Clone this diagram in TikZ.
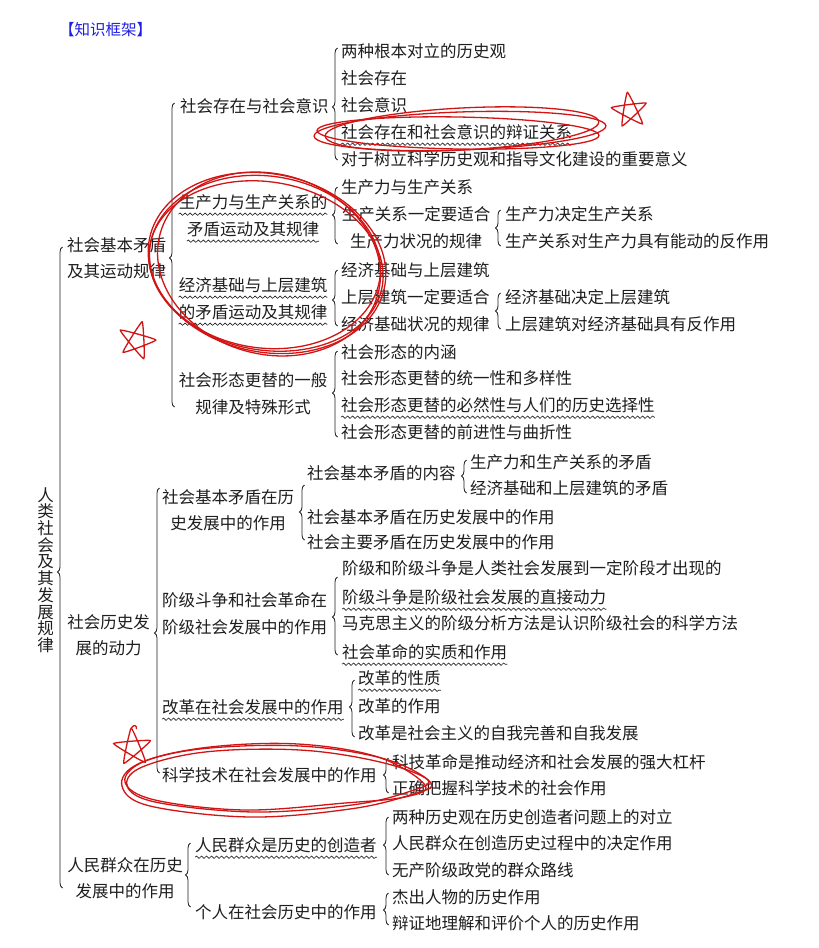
\documentclass[tikz,border=0pt]{standalone}
\usepackage{fontspec}
\newfontfamily\cjk{Noto Sans CJK SC}
\usetikzlibrary{decorations.pathreplacing,decorations.pathmorphing,calc}
\definecolor{ink}{HTML}{1E1E1E}
\definecolor{titleblue}{HTML}{1F1FE0}
\definecolor{penred}{HTML}{D21414}
% curly brace: name, x of the brace line, top y, bottom y, tip y
\newcommand\mkbrace[5]{%
  \coordinate (#1t) at (#2+2.5,#3);
  \coordinate (#1b) at (#2+2.5,#4);
  \pgfmathsetmacro\braceasp{(#4-#5)/(#4-#3)}
  \draw[brc=\braceasp] (#1b) -- (#1t);
}
% wavy underline below a node
\newcommand\wavy[1]{\draw[wavyline] ([yshift=-4pt]#1.south west) -- ([yshift=-4pt]#1.south east);}
\begin{document}
\begin{tikzpicture}[x=1pt,y=-1pt,
  lbl/.style={inner sep=0pt, anchor=west, text=ink,
    font=\cjk\fontsize{16.5}{20}\selectfont, text height=14pt, text depth=2pt},
  lblc/.style={lbl, anchor=center},
  wavyline/.style={draw=ink, line width=0.6pt, decorate,
    decoration={snake, amplitude=1.2pt, segment length=5pt}},
  brc/.style={draw=ink, line width=0.8pt, decorate,
    decoration={brace, amplitude=5pt, aspect=#1}},
  redpen/.style={draw=penred, line width=1.3pt, line cap=round, line join=round},
]
\fill[white] (0,0) rectangle (819,948);
\useasboundingbox (0,0) rectangle (819,948);

% title
\node[lbl, text=titleblue, font=\cjk\fontsize{15.5}{18}\selectfont] (title) at (59,29) {【知识框架】};

% root
\node[inner sep=0pt, text=ink, align=center, font=\cjk\fontsize{16.5}{16.7}\selectfont] (root) at (45.5,570)
  {人\\类\\社\\会\\及\\其\\发\\展\\规\\律};
\mkbrace{br0}{60}{247}{888}{572}

% first level
\node[lblc] (c1a) at (116.5,245) {社会基本矛盾};
\node[lblc] (c1b) at (116.5,271) {及其运动规律};
\node[lblc] (c2a) at (108.5,622) {社会历史发};
\node[lblc] (c2b) at (108.5,648) {展的动力};
\node[lblc] (c3a) at (125,865) {人民群众在历史};
\node[lblc] (c3b) at (125,891) {发展中的作用};
\mkbrace{br1}{172}{103}{407}{258}
\mkbrace{br2}{157}{488}{773}{633}
\mkbrace{br3}{188}{843}{907}{875}

% --- 社会基本矛盾及其运动规律 ---
\node[lbl] (s1) at (180,106) {社会存在与社会意识};
\node[lblc] (s2a) at (253,202) {生产力与生产关系的};
\node[lblc] (s2b) at (253,229) {矛盾运动及其规律};
\node[lblc] (s3a) at (253,285) {经济基础与上层建筑};
\node[lblc] (s3b) at (253,312) {的矛盾运动及其规律};
\node[lblc] (s4a) at (253,380) {社会形态更替的一般};
\node[lblc] (s4b) at (253,407) {规律及特殊形式};
\wavy{s2a}\wavy{s2b}\wavy{s3a}\wavy{s3b}

\mkbrace{bra}{335}{48}{160}{107}
\node[lbl] (a1) at (341,51) {两种根本对立的历史观};
\node[lbl] (a2) at (341,78) {社会存在};
\node[lbl] (a3) at (341,105) {社会意识};
\node[lbl] (a4) at (341,132) {社会存在和社会意识的辩证关系};
\node[lbl] (a5) at (341,159) {对于树立科学历史观和指导文化建设的重要意义};
\wavy{a4}

\mkbrace{brb}{335}{187}{244}{215}
\node[lbl] (b1) at (341,187) {生产力与生产关系};
\node[lblc] (b2a) at (416,214) {生产关系一定要适合};
\node[lblc] (b2b) at (416,241) {生产力状况的规律};
\mkbrace{brbb}{498}{210}{246}{228}
\node[lbl] (b3) at (505,214) {生产力决定生产关系};
\node[lbl] (b4) at (505,241) {生产关系对生产力具有能动的反作用};

\mkbrace{bre}{335}{270}{326}{300}
\node[lbl] (e1) at (341,270) {经济基础与上层建筑};
\node[lbl] (e2a) at (341,297) {上层建筑一定要适合};
\node[lbl] (e2b) at (341,324) {经济基础状况的规律};
\mkbrace{bree}{498}{293}{329}{311}
\node[lbl] (e3) at (505,297) {经济基础决定上层建筑};
\node[lbl] (e4) at (505,324) {上层建筑对经济基础具有反作用};

\mkbrace{brf}{335}{351}{437}{393}
\node[lbl] (f1) at (341,352) {社会形态的内涵};
\node[lbl] (f2) at (341,378) {社会形态更替的统一性和多样性};
\node[lbl] (f3) at (341,405) {社会形态更替的必然性与人们的历史选择性};
\node[lbl] (f4) at (341,432) {社会形态更替的前进性与曲折性};
\wavy{f3}

% --- 社会历史发展的动力 ---
\node[lblc] (m1a) at (228,497) {社会基本矛盾在历};
\node[lblc] (m1b) at (228,523) {史发展中的作用};
\node[lbl] (m2a) at (162,600) {阶级斗争和社会革命在};
\node[lbl] (m2b) at (162,627) {阶级社会发展中的作用};
\node[lbl] (m3) at (162,707) {改革在社会发展中的作用};
\node[lbl] (m4) at (162,775) {科学技术在社会发展中的作用};
\wavy{m3}

\mkbrace{brg}{302}{485}{540}{512}
\node[lbl] (g1) at (307,473) {社会基本矛盾的内容};
\mkbrace{brgg}{464}{460}{493}{476}
\node[lbl] (g2) at (470,462) {生产力和生产关系的矛盾};
\node[lbl] (g3) at (470,488) {经济基础和上层建筑的矛盾};
\node[lbl] (g4) at (307,517) {社会基本矛盾在历史发展中的作用};
\node[lbl] (g5) at (307,542) {社会主要矛盾在历史发展中的作用};

\mkbrace{brh}{335}{577}{655}{617}
\node[lbl] (h1) at (342,568) {阶级和阶级斗争是人类社会发展到一定阶段才出现的};
\node[lbl] (h2) at (342,597) {阶级斗争是阶级社会发展的直接动力};
\node[lbl] (h3) at (342,623) {马克思主义的阶级分析方法是认识阶级社会的科学方法};
\node[lbl] (h4) at (342,652) {社会革命的实质和作用};
\wavy{h2}\wavy{h4}

\mkbrace{brr}{352}{680}{737}{707}
\node[lbl] (r1) at (358,678) {改革的性质};
\node[lbl] (r2) at (358,706) {改革的作用};
\node[lbl] (r3) at (358,733) {改革是社会主义的自我完善和自我发展};
\wavy{r1}

\mkbrace{brk}{386}{758}{793}{775}
\node[lbl] (k1) at (392,762) {科技革命是推动经济和社会发展的强大杠杆};
\node[lbl] (k2) at (392,788) {正确把握科学技术的社会作用};

% --- 人民群众在历史发展中的作用 ---
\node[lbl] (p1) at (195,845) {人民群众是历史的创造者};
\node[lbl] (p2) at (195,912) {个人在社会历史中的作用};
\wavy{p1}
\mkbrace{brq}{386}{817}{875}{845}
\node[lbl] (q1) at (392,817) {两种历史观在历史创造者问题上的对立};
\node[lbl] (q2) at (392,843) {人民群众在创造历史过程中的决定作用};
\node[lbl] (q3) at (392,870) {无产阶级政党的群众路线};
\mkbrace{brqq}{386}{893}{925}{910}
\node[lbl] (q4) at (392,897) {杰出人物的历史作用};
\node[lbl] (q5) at (392,923) {辩证地理解和评价个人的历史作用};

% --- red pen marks ---
\draw[redpen, rotate around={2:(460,131)}] (460,131) ellipse [x radius=146, y radius=19];
\draw[redpen, rotate around={-1:(458,133)}] (458,133) ellipse [x radius=141, y radius=16];
\draw[redpen, rotate around={3:(462,129)}] (462,129) ellipse [x radius=137, y radius=21];

\draw[redpen, rotate around={-12:(267,263)}] (267,263) ellipse [x radius=120, y radius=89];
\draw[redpen, rotate around={-8:(265,262)}] (265,262) ellipse [x radius=116, y radius=86];
\draw[redpen, rotate around={-16:(269,264)}] (269,264) ellipse [x radius=113, y radius=90];
\draw[redpen, rotate around={-10:(266,266)}] (266,266) ellipse [x radius=118, y radius=84];

\draw[redpen] plot[smooth cycle, tension=0.6] coordinates
  {(431,783) (385,759) (300,746) (200,749) (138,764) (122,786) (150,806) (250,817) (350,809) (410,795)};
\draw[redpen] plot[smooth cycle, tension=0.6] coordinates
  {(428,780) (380,762) (300,750) (205,752) (140,768) (128,788) (160,803) (255,812) (352,805) (408,792)};
\draw[redpen] plot[smooth cycle, tension=0.6] coordinates
  {(425,785) (378,757) (298,744) (210,747) (145,761) (125,782) (155,800) (245,810) (345,803) (405,797)};

\begin{scope}[shift={(630,111)}, rotate=8]
  \draw[redpen] plot[smooth cycle, tension=0.2] coordinates {(-90:19) (54:18) (198:19) (342:18) (126:17)};
\end{scope}
\begin{scope}[shift={(137,341)}, rotate=-15]
  \draw[redpen] plot[smooth cycle, tension=0.2] coordinates {(-90:20) (54:19) (198:20) (342:19) (126:18)};
\end{scope}
\begin{scope}[shift={(133,748)}, rotate=5]
  \draw[redpen] plot[smooth cycle, tension=0.2] coordinates {(-90:20) (54:19) (198:20) (342:19) (126:18)};
  \draw[redpen] (0,-20) .. controls (3,-24) and (6,-22) .. (5,-19);
\end{scope}
\end{tikzpicture}
\end{document}
